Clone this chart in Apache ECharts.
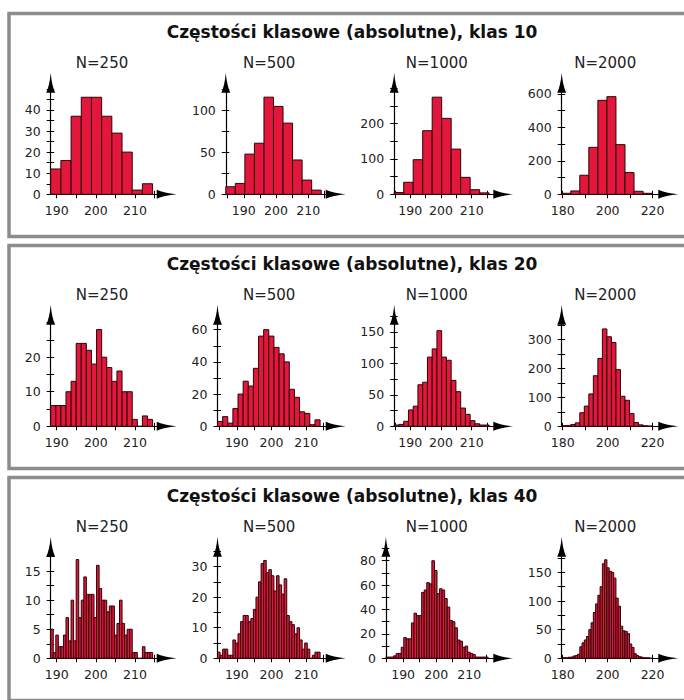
<!DOCTYPE html>
<html><head><meta charset="utf-8">
<script src="https://cdn.jsdelivr.net/npm/echarts@6/dist/echarts.min.js"></script>
<style>html,body{margin:0;padding:0;background:#fff}#c{width:684px;height:700px}</style>
</head><body><div id="c"></div>
<script>
// ---------- data ----------
const panelTitles = [
  'Częstości klasowe (absolutne), klas 10',
  'Częstości klasowe (absolutne), klas 20',
  'Częstości klasowe (absolutne), klas 40'
];
const classCounts = [10, 20, 40];
const subTitles = ['N=250', 'N=500', 'N=1000', 'N=2000'];
// sample range (first and last class edge) for each N
const classStart = [188.47, 184.43, 184.8, 179.56];
const classEnd   = [214.5, 214.0, 215.7, 219.8];
const xAxisMax   = [218.1, 218.5, 220.3, 227.0];
const xTicks = [
  [190, 195, 200, 205, 210, 215],
  [185, 190, 195, 200, 205, 210, 215],
  [185, 190, 195, 200, 205, 210, 215],
  [180, 190, 200, 210, 220]
];
const xLabels = [
  [190, 200, 210],
  [190, 200, 210],
  [190, 200, 210],
  [180, 200, 220]
];

// klas 10
const k10_250  = [12, 16, 37, 46, 46, 37, 29, 20, 2, 5];
const k10_500  = [9, 13, 48, 61, 116, 105, 85, 41, 17, 5];
const k10_1000 = [5, 34, 98, 180, 275, 215, 128, 48, 13, 4];
const k10_2000 = [6, 20, 114, 281, 562, 584, 297, 130, 18, 6];
// klas 20
const k20_250  = [6, 6, 6, 10, 13, 24, 24, 22, 18, 28, 20, 17, 13, 16, 10, 10, 2, 0, 3, 2];
const k20_500  = [3, 6, 2, 11, 20, 28, 25, 36, 56, 60, 56, 49, 45, 40, 23, 18, 9, 8, 1, 4];
const k20_1000 = [2, 3, 8, 26, 32, 66, 70, 110, 123, 152, 110, 105, 73, 55, 29, 19, 9, 4, 2, 2];
const k20_2000 = [2, 3, 6, 12, 47, 70, 112, 175, 235, 337, 310, 290, 196, 104, 90, 44, 13, 5, 2, 1];
// klas 40
const k40_250  = [5, 1, 4, 2, 2, 4, 7, 3, 10, 3, 17, 7, 10, 14, 11, 11, 11, 7, 16, 12,
                  10, 10, 8, 9, 9, 4, 6, 10, 6, 4, 5, 5, 1, 1, 0, 0, 2, 1, 1, 1];
const k40_500  = [2, 1, 3, 3, 1, 1, 6, 5, 8, 12, 14, 14, 12, 13, 16, 20, 25, 31, 32, 28,
                  29, 27, 22, 27, 24, 21, 26, 14, 12, 11, 8, 10, 6, 3, 5, 3, 0, 1, 2, 2];
const k40_1000 = [1, 1, 1, 2, 4, 4, 9, 17, 16, 16, 29, 37, 35, 35, 54, 56, 62, 61, 80, 72,
                  53, 57, 56, 49, 42, 31, 30, 25, 15, 14, 9, 10, 5, 4, 3, 1, 1, 1, 1, 1];
const k40_2000 = [1, 1, 1, 2, 2, 4, 5, 7, 20, 27, 32, 38, 50, 62, 80, 95, 110, 125, 165, 172,
                  158, 152, 150, 140, 105, 91, 56, 48, 47, 43, 25, 19, 8, 5, 3, 2, 1, 1, 1, 0];

const counts = [
  [k10_250, k10_500, k10_1000, k10_2000],
  [k20_250, k20_500, k20_1000, k20_2000],
  [k40_250, k40_500, k40_1000, k40_2000]
];

const yMax = [
  [52.9, 133.3, 316, 667.5],
  [32.3, 69.3, 177.4, 386.3],
  [19.2, 36.5, 91.5, 194.8]
];
const yTicks = [
  [[0,5,10,15,20,25,30,35,40,45,50], [0,25,50,75,100,125], [0,50,100,150,200,250,300], [0,100,200,300,400,500,600]],
  [[0,5,10,15,20,25,30], [0,10,20,30,40,50,60], [0,25,50,75,100,125,150,175], [0,50,100,150,200,250,300,350]],
  [[0,2.5,5,7.5,10,12.5,15,17.5], [0,5,10,15,20,25,30,35], [0,10,20,30,40,50,60,70,80,90], [0,25,50,75,100,125,150,175]]
];
const yLabels = [
  [[0,10,20,30,40], [0,50,100], [0,100,200], [0,200,400,600]],
  [[0,10,20], [0,20,40,60], [0,50,100,150], [0,100,200,300]],
  [[0,5,10,15], [0,10,20,30], [0,20,40,60,80], [0,50,100,150]]
];

// ---------- layout ----------
const ROW = 232;
const colBase = [34.1, 200.9, 369.3, 536.8];
const digitW = 8.3;
const gridRight = [166.7, 335.7, 503.3, 668.3];
const colCenter = [102, 269.2, 436.8, 605.2];
const FONT = 'DejaVu Sans';
const arrow = 'path://M4.5,0 Q5.6,13 9,20 L0,20 Q3.4,13 4.5,0 Z';
const barFill = '#e3173c';
const barStroke = '#2a0508';

function renderBar(params, api) {
  const a = api.coord([api.value(0), 0]);
  const b = api.coord([api.value(1), api.value(2)]);
  return {
    type: 'rect',
    shape: { x: a[0], y: b[1], width: b[0] - a[0], height: a[1] - b[1] },
    style: { fill: barFill, stroke: barStroke, lineWidth: 1 }
  };
}

const grids = [], xAxes = [], yAxes = [], series = [], graphics = [];
const lineStyle = { color: '#000', width: 1.2 };
const tickStyle = { color: '#000', width: 1 };

for (let r = 0; r < 3; r++) {
  graphics.push({
    type: 'rect', z: -10, silent: true,
    shape: { x: 9, y: 13.5 + ROW * r, width: 700, height: 223 },
    style: { fill: 'none', stroke: '#8c8c8c', lineWidth: 3.5 }
  });
  graphics.push({
    type: 'text', x: 352, y: 32 + ROW * r, silent: true,
    style: { text: panelTitles[r], fontFamily: FONT, fontWeight: 'bold', fontSize: 17,
             fill: '#111', align: 'center', verticalAlign: 'middle' }
  });
  for (let c = 0; c < 4; c++) {
    const g = r * 4 + c;
    graphics.push({
      type: 'text', x: colCenter[c], y: 63.3 + ROW * r, silent: true,
      style: { text: subTitles[c], fontFamily: FONT, fontSize: 15,
               fill: '#222', align: 'center', verticalAlign: 'middle' }
    });
    const maxLen = Math.max(...yLabels[r][c].map(v => String(v).length));
    const left = colBase[c] + digitW * maxLen;
    grids.push({ left: left, top: 82.7 + ROW * r, width: gridRight[c] - left, height: 111.6,
                 containLabel: false, outerBoundsMode: 'none' });

    // x axes (outside ticks + labels, inside ticks)
    xAxes.push({
      gridIndex: g, type: 'value', position: 'bottom', min: classStart[c], max: xAxisMax[c],
      axisLine: { show: true, onZero: false, symbol: ['none', arrow], symbolSize: [9, 20], lineStyle: lineStyle },
      axisTick: { show: true, inside: false, length: 4, customValues: xTicks[c], lineStyle: tickStyle },
      axisLabel: { show: true, customValues: xLabels[c], margin: 10, fontFamily: FONT, fontSize: 12.5, color: '#222' },
      splitLine: { show: false }
    });
    xAxes.push({
      gridIndex: g, type: 'value', position: 'bottom', min: classStart[c], max: xAxisMax[c],
      axisLine: { show: false, onZero: false },
      axisTick: { show: true, inside: true, length: 3.5, customValues: xTicks[c], lineStyle: tickStyle },
      axisLabel: { show: false }, splitLine: { show: false }
    });
    // y axes
    yAxes.push({
      gridIndex: g, type: 'value', position: 'left', min: 0, max: yMax[r][c],
      axisLine: { show: true, onZero: false, symbol: ['none', arrow], symbolSize: [9, 20], lineStyle: lineStyle },
      axisTick: { show: true, inside: false, length: 4, customValues: yTicks[r][c], lineStyle: tickStyle },
      axisLabel: { show: true, customValues: yLabels[r][c], margin: 10, fontFamily: FONT, fontSize: 12.5, color: '#222' },
      splitLine: { show: false }
    });
    yAxes.push({
      gridIndex: g, type: 'value', position: 'left', min: 0, max: yMax[r][c],
      axisLine: { show: false, onZero: false },
      axisTick: { show: true, inside: true, length: 3.5, customValues: yTicks[r][c], lineStyle: tickStyle },
      axisLabel: { show: false }, splitLine: { show: false }
    });

    const k = classCounts[r];
    const w = (classEnd[c] - classStart[c]) / k;
    const data = counts[r][c].map((v, i) => [classStart[c] + i * w, classStart[c] + (i + 1) * w, v]);
    series.push({
      type: 'custom', xAxisIndex: 2 * g, yAxisIndex: 2 * g,
      data: data, encode: { x: [0, 1], y: 2 },
      renderItem: renderBar, clip: false, silent: true, z: 2
    });
  }
}

const chart = echarts.init(document.getElementById('c'), null, { renderer: 'svg', width: 684, height: 700 });
chart.setOption({
  backgroundColor: '#fff',
  animation: false,
  grid: grids, xAxis: xAxes, yAxis: yAxes, series: series, graphic: graphics
});
</script>
</body></html>
